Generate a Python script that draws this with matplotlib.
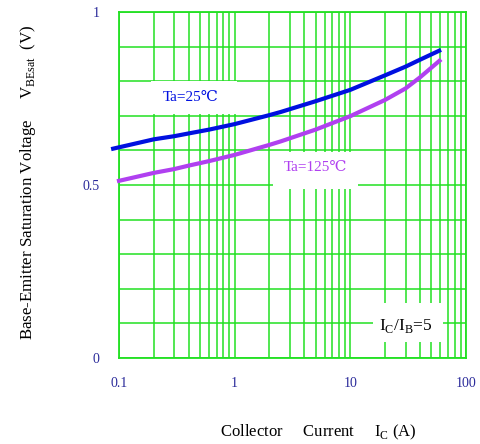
import numpy as np
import matplotlib.pyplot as plt
from matplotlib.patches import Rectangle
from matplotlib.ticker import FixedLocator, NullFormatter

# datos
ic_25 = [0.089, 0.2, 0.3, 0.4, 0.6, 1.0, 2.0, 2.5, 5.0, 10.0, 20.0, 30.0, 40.0, 58.6]
vbe_25 = [0.605, 0.632, 0.641, 0.649, 0.660, 0.676, 0.702, 0.711, 0.742, 0.775,
          0.817, 0.842, 0.862, 0.888]
ic_125 = [0.1, 0.2, 0.3, 0.4, 0.6, 1.0, 2.0, 2.5, 5.0, 10.0, 20.0, 30.0, 40.0, 59.0]
vbe_125 = [0.512, 0.535, 0.546, 0.556, 0.569, 0.587, 0.616, 0.626, 0.660, 0.699,
           0.746, 0.779, 0.811, 0.859]

x_ticks = [0.1, 1, 10, 100]
x_ticklabels = ["0.1", "1", "10", "100"]
y_ticks = [0, 0.5, 1]
y_ticklabels = ["0", "0.5", "1"]

plt.rcParams['font.family'] = ['Liberation Serif', 'DejaVu Serif']
verde = '#22e022'
azul_txt = '#2a2a9a'
azul = '#0010e0'
morado = '#b040f0'

fig = plt.figure(figsize=(4.81, 4.44), dpi=100)
ax = fig.add_axes([0.2474, 0.1937, 0.7214, 0.7793])
ax.set_xscale('log')
ax.set_xlim(0.1, 100)
ax.set_ylim(0, 1)

# rejilla
minors = [m * 10.0**d for d in range(-1, 2) for m in range(2, 10)]
ax.xaxis.set_minor_locator(FixedLocator(minors))
ax.xaxis.set_minor_formatter(NullFormatter())
ax.set_yticks(np.arange(0, 1.01, 0.1), minor=True)
ax.grid(True, which='both', color=verde, lw=1.1)
ax.set_axisbelow(True)
for s in ax.spines.values():
    s.set_color(verde)
    s.set_linewidth(1.3)

ax.set_xticks(x_ticks)
ax.set_xticklabels(x_ticklabels)
ax.set_yticks(y_ticks)
ax.set_yticklabels(y_ticklabels)
ax.tick_params(which='both', length=0, labelsize=10, labelcolor=azul_txt)
ax.tick_params(axis='x', pad=14)
ax.tick_params(axis='y', pad=14)

# cajas blancas detras de las etiquetas
for (x0, x1, y0, y1) in [(0.19, 1.05, 0.706, 0.80),
                         (2.15, 11.6, 0.487, 0.595),
                         (15.7, 63.0, 0.047, 0.158)]:
    ax.add_patch(Rectangle((x0, y0), x1 - x0, y1 - y0, facecolor='white',
                           edgecolor='none', zorder=2))

ax.plot(ic_25, vbe_25, color=azul, lw=3, clip_on=False, zorder=5)
ax.plot(ic_125, vbe_125, color=morado, lw=3, clip_on=False, zorder=5)

ax.text(0.42, 0.754, "Ta=25\u2103", color=azul, fontsize=11,
        ha='center', va='center', zorder=3)
ax.text(4.95, 0.552, "Ta=125\u2103", color=morado, fontsize=11,
        ha='center', va='center', zorder=3)
ax.text(30, 0.092, "I$_\\mathregular{C}$/I$_\\mathregular{B}$=5", color='black',
        fontsize=12.5, ha='center', va='center', zorder=3)

fig.text(0.058, 0.59, "Base-Emitter Saturation Voltage     V$_\\mathregular{BEsat}$  (V)",
         rotation=90, ha='center', va='center', fontsize=12.2)
fig.text(0.662, 0.027, "Collector     Current     I$_\\mathregular{C}$ (A)",
         ha='center', va='center', fontsize=12)

fig.savefig("out.png", dpi=100)
